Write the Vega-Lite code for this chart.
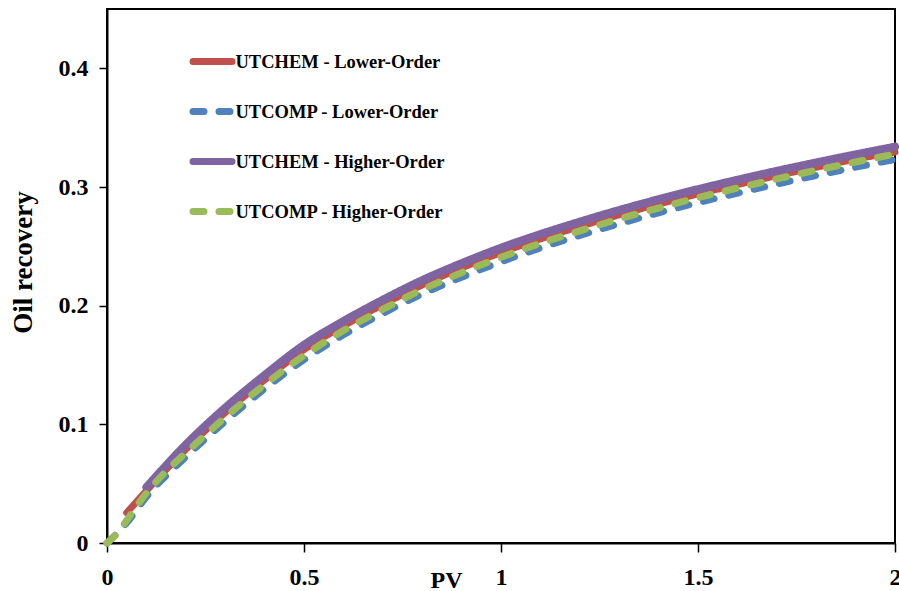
{
  "$schema": "https://vega.github.io/schema/vega-lite/v6.json",
  "width": 788,
  "height": 534,
  "autosize": {"type": "none"},
  "padding": {"left": 107, "top": 9, "right": 4, "bottom": 48},
  "background": "white",
  "data": {"values": [
    {"series": "UTCHEM - Lower-Order", "pv": 0.05, "rec": 0.0255},
    {"series": "UTCHEM - Lower-Order", "pv": 0.1, "rec": 0.044},
    {"series": "UTCHEM - Lower-Order", "pv": 0.2, "rec": 0.079},
    {"series": "UTCHEM - Lower-Order", "pv": 0.3, "rec": 0.110},
    {"series": "UTCHEM - Lower-Order", "pv": 0.4, "rec": 0.1375},
    {"series": "UTCHEM - Lower-Order", "pv": 0.5, "rec": 0.163},
    {"series": "UTCHEM - Lower-Order", "pv": 0.6, "rec": 0.183},
    {"series": "UTCHEM - Lower-Order", "pv": 0.7, "rec": 0.201},
    {"series": "UTCHEM - Lower-Order", "pv": 0.8, "rec": 0.2175},
    {"series": "UTCHEM - Lower-Order", "pv": 0.9, "rec": 0.2318},
    {"series": "UTCHEM - Lower-Order", "pv": 1.0, "rec": 0.2448},
    {"series": "UTCHEM - Lower-Order", "pv": 1.1, "rec": 0.2563},
    {"series": "UTCHEM - Lower-Order", "pv": 1.2, "rec": 0.2668},
    {"series": "UTCHEM - Lower-Order", "pv": 1.3, "rec": 0.2766},
    {"series": "UTCHEM - Lower-Order", "pv": 1.4, "rec": 0.2857},
    {"series": "UTCHEM - Lower-Order", "pv": 1.5, "rec": 0.2942},
    {"series": "UTCHEM - Lower-Order", "pv": 1.6, "rec": 0.3021},
    {"series": "UTCHEM - Lower-Order", "pv": 1.7, "rec": 0.3096},
    {"series": "UTCHEM - Lower-Order", "pv": 1.8, "rec": 0.3167},
    {"series": "UTCHEM - Lower-Order", "pv": 1.9, "rec": 0.3235},
    {"series": "UTCHEM - Lower-Order", "pv": 2.0, "rec": 0.3295},
    {"series": "UTCOMP - Lower-Order", "pv": 0.0, "rec": 0.0},
    {"series": "UTCOMP - Lower-Order", "pv": 0.05, "rec": 0.017},
    {"series": "UTCOMP - Lower-Order", "pv": 0.1, "rec": 0.039},
    {"series": "UTCOMP - Lower-Order", "pv": 0.2, "rec": 0.0725},
    {"series": "UTCOMP - Lower-Order", "pv": 0.3, "rec": 0.1025},
    {"series": "UTCOMP - Lower-Order", "pv": 0.4, "rec": 0.130},
    {"series": "UTCOMP - Lower-Order", "pv": 0.5, "rec": 0.1545},
    {"series": "UTCOMP - Lower-Order", "pv": 0.6, "rec": 0.1755},
    {"series": "UTCOMP - Lower-Order", "pv": 0.7, "rec": 0.1935},
    {"series": "UTCOMP - Lower-Order", "pv": 0.8, "rec": 0.2098},
    {"series": "UTCOMP - Lower-Order", "pv": 0.9, "rec": 0.2240},
    {"series": "UTCOMP - Lower-Order", "pv": 1.0, "rec": 0.2370},
    {"series": "UTCOMP - Lower-Order", "pv": 1.1, "rec": 0.2487},
    {"series": "UTCOMP - Lower-Order", "pv": 1.2, "rec": 0.2592},
    {"series": "UTCOMP - Lower-Order", "pv": 1.3, "rec": 0.2690},
    {"series": "UTCOMP - Lower-Order", "pv": 1.4, "rec": 0.2783},
    {"series": "UTCOMP - Lower-Order", "pv": 1.5, "rec": 0.2868},
    {"series": "UTCOMP - Lower-Order", "pv": 1.6, "rec": 0.2948},
    {"series": "UTCOMP - Lower-Order", "pv": 1.7, "rec": 0.3025},
    {"series": "UTCOMP - Lower-Order", "pv": 1.8, "rec": 0.3097},
    {"series": "UTCOMP - Lower-Order", "pv": 1.9, "rec": 0.3167},
    {"series": "UTCOMP - Lower-Order", "pv": 2.0, "rec": 0.3233},
    {"series": "UTCHEM - Higher-Order", "pv": 0.1, "rec": 0.047},
    {"series": "UTCHEM - Higher-Order", "pv": 0.2, "rec": 0.083},
    {"series": "UTCHEM - Higher-Order", "pv": 0.3, "rec": 0.114},
    {"series": "UTCHEM - Higher-Order", "pv": 0.4, "rec": 0.1415},
    {"series": "UTCHEM - Higher-Order", "pv": 0.5, "rec": 0.167},
    {"series": "UTCHEM - Higher-Order", "pv": 0.6, "rec": 0.187},
    {"series": "UTCHEM - Higher-Order", "pv": 0.7, "rec": 0.205},
    {"series": "UTCHEM - Higher-Order", "pv": 0.8, "rec": 0.2215},
    {"series": "UTCHEM - Higher-Order", "pv": 0.9, "rec": 0.2358},
    {"series": "UTCHEM - Higher-Order", "pv": 1.0, "rec": 0.2488},
    {"series": "UTCHEM - Higher-Order", "pv": 1.1, "rec": 0.2603},
    {"series": "UTCHEM - Higher-Order", "pv": 1.2, "rec": 0.2708},
    {"series": "UTCHEM - Higher-Order", "pv": 1.3, "rec": 0.2806},
    {"series": "UTCHEM - Higher-Order", "pv": 1.4, "rec": 0.2897},
    {"series": "UTCHEM - Higher-Order", "pv": 1.5, "rec": 0.2982},
    {"series": "UTCHEM - Higher-Order", "pv": 1.6, "rec": 0.3061},
    {"series": "UTCHEM - Higher-Order", "pv": 1.7, "rec": 0.3136},
    {"series": "UTCHEM - Higher-Order", "pv": 1.8, "rec": 0.3207},
    {"series": "UTCHEM - Higher-Order", "pv": 1.9, "rec": 0.3275},
    {"series": "UTCHEM - Higher-Order", "pv": 2.0, "rec": 0.334},
    {"series": "UTCOMP - Higher-Order", "pv": 0.0, "rec": 0.0},
    {"series": "UTCOMP - Higher-Order", "pv": 0.025, "rec": 0.008},
    {"series": "UTCOMP - Higher-Order", "pv": 0.05, "rec": 0.019},
    {"series": "UTCOMP - Higher-Order", "pv": 0.075, "rec": 0.031},
    {"series": "UTCOMP - Higher-Order", "pv": 0.1, "rec": 0.042},
    {"series": "UTCOMP - Higher-Order", "pv": 0.15, "rec": 0.0605},
    {"series": "UTCOMP - Higher-Order", "pv": 0.2, "rec": 0.076},
    {"series": "UTCOMP - Higher-Order", "pv": 0.3, "rec": 0.106},
    {"series": "UTCOMP - Higher-Order", "pv": 0.4, "rec": 0.1335},
    {"series": "UTCOMP - Higher-Order", "pv": 0.5, "rec": 0.158},
    {"series": "UTCOMP - Higher-Order", "pv": 0.6, "rec": 0.179},
    {"series": "UTCOMP - Higher-Order", "pv": 0.7, "rec": 0.197},
    {"series": "UTCOMP - Higher-Order", "pv": 0.8, "rec": 0.2135},
    {"series": "UTCOMP - Higher-Order", "pv": 0.9, "rec": 0.2278},
    {"series": "UTCOMP - Higher-Order", "pv": 1.0, "rec": 0.2408},
    {"series": "UTCOMP - Higher-Order", "pv": 1.1, "rec": 0.2525},
    {"series": "UTCOMP - Higher-Order", "pv": 1.2, "rec": 0.2631},
    {"series": "UTCOMP - Higher-Order", "pv": 1.3, "rec": 0.2730},
    {"series": "UTCOMP - Higher-Order", "pv": 1.4, "rec": 0.2823},
    {"series": "UTCOMP - Higher-Order", "pv": 1.5, "rec": 0.2910},
    {"series": "UTCOMP - Higher-Order", "pv": 1.6, "rec": 0.2991},
    {"series": "UTCOMP - Higher-Order", "pv": 1.7, "rec": 0.3068},
    {"series": "UTCOMP - Higher-Order", "pv": 1.8, "rec": 0.3141},
    {"series": "UTCOMP - Higher-Order", "pv": 1.9, "rec": 0.3211},
    {"series": "UTCOMP - Higher-Order", "pv": 2.0, "rec": 0.3278}
  ]},
  "encoding": {
    "x": {
      "field": "pv", "type": "quantitative",
      "scale": {"domain": [0, 2], "nice": false, "zero": false},
      "axis": {
        "values": [0, 0.5, 1, 1.5, 2], "format": "~g", "labelFlush": false, "labelOverlap": false,
        "title": "PV", "titleX": 339, "titleY": 37, "titleBaseline": "middle", "titleAlign": "center",
        "tickSize": 9, "labelPadding": 13
      }
    },
    "y": {
      "field": "rec", "type": "quantitative",
      "scale": {"domain": [0, 0.45], "nice": false, "zero": false},
      "axis": {
        "values": [0, 0.1, 0.2, 0.3, 0.4], "format": "~g", "labelOverlap": false, "labelFlush": false,
        "title": "Oil recovery", "titleX": -84, "titleY": 253, "titleBaseline": "middle", "titleAlign": "center", "titleAngle": -90,
        "titleFontSize": 27,
        "tickSize": 8, "labelPadding": 11
      }
    },
    "color": {
      "field": "series", "type": "nominal",
      "scale": {
        "domain": ["UTCHEM - Lower-Order", "UTCOMP - Lower-Order", "UTCHEM - Higher-Order", "UTCOMP - Higher-Order"],
        "range": ["#C0504D", "#4F81BD", "#8064A2", "#9BBB59"]
      },
      "legend": {"title": null, "encode": {"symbols": {"update": {"strokeCap": {"value": "round"}}}}}
    },
    "strokeDash": {
      "field": "series", "type": "nominal",
      "scale": {
        "domain": ["UTCHEM - Lower-Order", "UTCOMP - Lower-Order", "UTCHEM - Higher-Order", "UTCOMP - Higher-Order"],
        "range": [[1, 0], [11, 15], [1, 0], [11, 15]]
      },
      "legend": {"title": null, "encode": {"symbols": {"update": {"strokeCap": {"value": "round"}}}}}
    }
  },
  "layer": [
    {"transform": [{"filter": "datum.series === 'UTCHEM - Lower-Order'"}],
     "mark": {"type": "line", "strokeWidth": 7, "interpolate": "monotone", "strokeCap": "round"}},
    {"transform": [{"filter": "datum.series === 'UTCOMP - Lower-Order'"}],
     "mark": {"type": "line", "strokeWidth": 7, "interpolate": "monotone", "strokeCap": "round"}},
    {"transform": [{"filter": "datum.series === 'UTCHEM - Higher-Order'"}],
     "mark": {"type": "line", "strokeWidth": 8, "interpolate": "monotone", "strokeCap": "round"}},
    {"transform": [{"filter": "datum.series === 'UTCOMP - Higher-Order'"}],
     "mark": {"type": "line", "strokeWidth": 7, "interpolate": "monotone", "strokeCap": "round"}}
  ],
  "config": {
    "view": {"stroke": "black", "strokeWidth": 2},
    "axis": {
      "grid": false,
      "domainColor": "black", "domainWidth": 2,
      "tickColor": "black", "tickWidth": 1.5,
      "labelFont": "Liberation Serif", "labelFontWeight": "bold", "labelFontSize": 24, "labelColor": "black",
      "titleFont": "Liberation Serif", "titleFontWeight": "bold", "titleFontSize": 24, "titleColor": "black"
    },
    "legend": {
      "orient": "none", "legendX": 82.5, "legendY": 29.5,
      "symbolType": "stroke", "symbolSize": 1521, "symbolStrokeWidth": 7,
      "labelFont": "Liberation Serif", "labelFontWeight": "bold", "labelFontSize": 18.5, "labelColor": "black",
      "labelOffset": 0, "rowPadding": 13, "padding": 0,
      "labelLimit": 400
    }
  }
}
